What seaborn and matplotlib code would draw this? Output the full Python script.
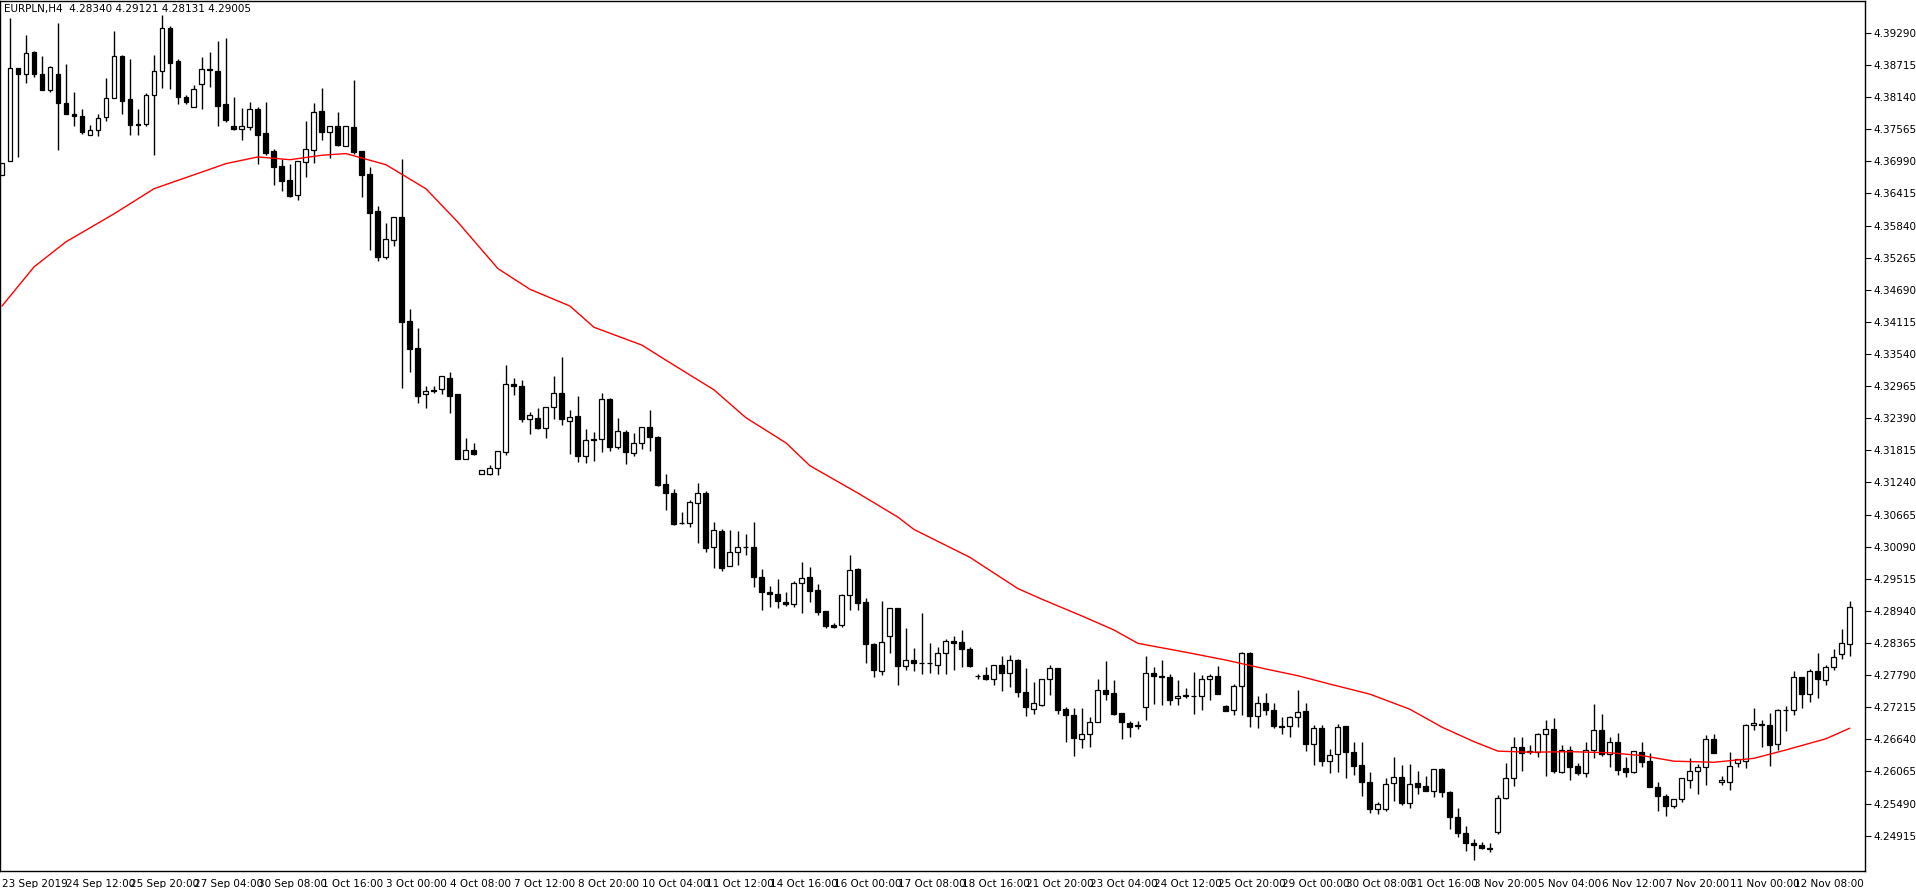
import numpy as np
import pandas as pd
import matplotlib
matplotlib.use("Agg")
import matplotlib.pyplot as plt
import seaborn as sns

# --- EURPLN H4 candles ---
opens = [
    4.3674, 4.3699, 4.3866, 4.3855, 4.3895, 4.3855, 4.3826, 4.3855, 4.3804, 4.3784,
    4.3780, 4.3747, 4.3756, 4.3778, 4.3812, 4.3888, 4.3810, 4.3766, 4.3766, 4.3818,
    4.3860, 4.3937, 4.3879, 4.3815, 4.3797,
    4.3838, 4.3865, 4.3861, 4.3801, 4.3763, 4.3757, 4.3760, 4.3793, 4.3749, 4.3717,
    4.3690, 4.3665, 4.3638, 4.3698, 4.3720, 4.3790, 4.3752, 4.3763, 4.3727, 4.3760,
    4.3717, 4.3676, 4.3610, 4.3527,
    4.3559, 4.3600, 4.3413, 4.3364, 4.3283, 4.3290, 4.3292, 4.3312, 4.3282, 4.3166,
    4.3182, 4.3139, 4.3140, 4.3150, 4.3178, 4.3301, 4.3297, 4.3237, 4.3240, 4.3221,
    4.3260, 4.3284, 4.3235, 4.3243, 4.3171, 4.3201,
    4.3201, 4.3273, 4.3187, 4.3214, 4.3176, 4.3194, 4.3223, 4.3206, 4.3122, 4.3105,
    4.3052, 4.3051, 4.3087, 4.3105, 4.3009, 4.3038, 4.2975, 4.3000, 4.3009, 4.3009,
    4.2955, 4.2928, 4.2925, 4.2910, 4.2907, 4.2944,
    4.2954, 4.2931, 4.2893, 4.2868, 4.2869, 4.2923, 4.2969, 4.2910, 4.2835, 4.2786,
    4.2850, 4.2899, 4.2796, 4.2806, 4.2800, 4.2800, 4.2797, 4.2818, 4.2840, 4.2838,
    4.2826, 4.2777, 4.2780, 4.2773, 4.2797, 4.2782, 4.2806,
    4.2748, 4.2718, 4.2726, 4.2772, 4.2791, 4.2718, 4.2707, 4.2665, 4.2673, 4.2695,
    4.2752, 4.2747, 4.2711, 4.2693, 4.2689, 4.2722, 4.2782, 4.2777, 4.2775, 4.2738,
    4.2742, 4.2741, 4.2741, 4.2773, 4.2777, 4.2723,
    4.2716, 4.2759, 4.2818, 4.2705, 4.2729, 4.2716, 4.2688, 4.2688, 4.2704, 4.2714,
    4.2655, 4.2685, 4.2625, 4.2638, 4.2688, 4.2641, 4.2619, 4.2588, 4.2540, 4.2540,
    4.2586, 4.2597, 4.2550, 4.2586, 4.2580, 4.2572, 4.2611,
    4.2570, 4.2525, 4.2496, 4.2479, 4.2475, 4.2470, 4.2498, 4.2559, 4.2595, 4.2650,
    4.2643, 4.2642, 4.2673, 4.2682, 4.2605, 4.2645, 4.2616, 4.2603, 4.2645, 4.2680,
    4.2637, 4.2659, 4.2612, 4.2605, 4.2641, 4.2625,
    4.2578, 4.2562, 4.2544, 4.2558, 4.2592, 4.2608, 4.2614, 4.2665, 4.2587, 4.2587,
    4.2621, 4.2626, 4.2689, 4.2692, 4.2690, 4.2656, 4.2716, 4.2717, 4.2776, 4.2746,
    4.2787, 4.2771, 4.2794, 4.2817, 4.28340,
]
highs = [
    4.3697, 4.3955, 4.3866, 4.3925, 4.3897, 4.3888, 4.3870, 4.3946, 4.3874, 4.3823,
    4.3793, 4.3765, 4.3784, 4.3848, 4.3933, 4.3890, 4.3882, 4.3793, 4.3821, 4.3890,
    4.3962, 4.3941, 4.3882, 4.3818, 4.3835,
    4.3886, 4.3894, 4.3915, 4.3920, 4.3814, 4.3794, 4.3806, 4.3797, 4.3806, 4.3721,
    4.3703, 4.3694, 4.3699, 4.3771, 4.3803, 4.3830, 4.3763, 4.3787, 4.3762, 4.3844,
    4.3717, 4.3689, 4.3619, 4.3588,
    4.3600, 4.3703, 4.3435, 4.3401, 4.3297, 4.3297, 4.3314, 4.3321, 4.3282, 4.3203,
    4.3194, 4.3146, 4.3156, 4.3180, 4.3334, 4.3312, 4.3307, 4.3250, 4.3258, 4.3260,
    4.3314, 4.3348, 4.3253, 4.3278, 4.3219, 4.3214,
    4.3285, 4.3275, 4.3239, 4.3218, 4.3213, 4.3223, 4.3254, 4.3207, 4.3140, 4.3112,
    4.3072, 4.3093, 4.3123, 4.3109, 4.3053, 4.3041, 4.3039, 4.3038, 4.3032, 4.3053,
    4.2969, 4.2939, 4.2952, 4.2928, 4.2947, 4.2981,
    4.2972, 4.2942, 4.2893, 4.2873, 4.2924, 4.2994, 4.2970, 4.2917, 4.2837, 4.2912,
    4.2900, 4.2900, 4.2863, 4.2828, 4.2890, 4.2837, 4.2829, 4.2843, 4.2849, 4.2860,
    4.2829, 4.2781, 4.2793, 4.2798, 4.2813, 4.2815, 4.2808,
    4.2792, 4.2767, 4.2773, 4.2797, 4.2791, 4.2722, 4.2720, 4.2720, 4.2704, 4.2773,
    4.2804, 4.2770, 4.2711, 4.2697, 4.2697, 4.2813, 4.2793, 4.2806, 4.2781, 4.2770,
    4.2756, 4.2785, 4.2779, 4.2781, 4.2795, 4.2725,
    4.2763, 4.2821, 4.2821, 4.2741, 4.2747, 4.2729, 4.2704, 4.2705, 4.2752, 4.2729,
    4.2689, 4.2690, 4.2647, 4.2692, 4.2688, 4.2660, 4.2660, 4.2606, 4.2551, 4.2594,
    4.2633, 4.2619, 4.2620, 4.2607, 4.2599, 4.2611, 4.2612,
    4.2571, 4.2542, 4.2508, 4.2486, 4.2480, 4.2478, 4.2565, 4.2622, 4.2668, 4.2668,
    4.2654, 4.2675, 4.2699, 4.2702, 4.2654, 4.2652, 4.2622, 4.2659, 4.2727, 4.2709,
    4.2668, 4.2675, 4.2632, 4.2643, 4.2659, 4.2640,
    4.2588, 4.2567, 4.2558, 4.2594, 4.2630, 4.2620, 4.2671, 4.2673, 4.2598, 4.2641,
    4.2628, 4.2692, 4.2721, 4.2698, 4.2711, 4.2718, 4.2723, 4.2786, 4.2776, 4.2790,
    4.2818, 4.2798, 4.2825, 4.2862, 4.29121,
]
lows = [
    4.3674, 4.3699, 4.3706, 4.3839, 4.3851, 4.3827, 4.3823, 4.3719, 4.3784, 4.3763,
    4.3748, 4.3747, 4.3744, 4.3772, 4.3812, 4.3784, 4.3747, 4.3747, 4.3763, 4.3710,
    4.3830, 4.3829, 4.3802, 4.3802, 4.3797,
    4.3792, 4.3833, 4.3763, 4.3769, 4.3755, 4.3737, 4.3755, 4.3694, 4.3710, 4.3657,
    4.3646, 4.3635, 4.3630, 4.3671, 4.3696, 4.3737, 4.3705, 4.3727, 4.3727, 4.3713,
    4.3636, 4.3541, 4.3520, 4.3525,
    4.3548, 4.3293, 4.3321, 4.3267, 4.3258, 4.3285, 4.3282, 4.3248, 4.3166, 4.3166,
    4.3174, 4.3139, 4.3138, 4.3138, 4.3173, 4.3280, 4.3233, 4.3210, 4.3219, 4.3203,
    4.3237, 4.3227, 4.3175, 4.3160, 4.3159, 4.3162,
    4.3178, 4.3181, 4.3184, 4.3157, 4.3172, 4.3184, 4.3181, 4.3117, 4.3074, 4.3048,
    4.3049, 4.3045, 4.3016, 4.2999, 4.2970, 4.2965, 4.2975, 4.2976, 4.2994, 4.2937,
    4.2896, 4.2901, 4.2899, 4.2903, 4.2901, 4.2890,
    4.2910, 4.2887, 4.2863, 4.2863, 4.2866, 4.2896, 4.2895, 4.2801, 4.2775, 4.2780,
    4.2819, 4.2762, 4.2789, 4.2786, 4.2781, 4.2783, 4.2781, 4.2781, 4.2789, 4.2794,
    4.2794, 4.2773, 4.2771, 4.2762, 4.2750, 4.2758, 4.2740,
    4.2705, 4.2709, 4.2723, 4.2744, 4.2709, 4.2660, 4.2634, 4.2648, 4.2650, 4.2695,
    4.2734, 4.2707, 4.2664, 4.2669, 4.2682, 4.2698, 4.2728, 4.2725, 4.2725, 4.2725,
    4.2738, 4.2710, 4.2717, 4.2735, 4.2746, 4.2714,
    4.2708, 4.2708, 4.2687, 4.2685, 4.2707, 4.2684, 4.2674, 4.2669, 4.2686, 4.2644,
    4.2619, 4.2617, 4.2603, 4.2605, 4.2594, 4.2601, 4.2562, 4.2533, 4.2530, 4.2535,
    4.2553, 4.2546, 4.2541, 4.2566, 4.2572, 4.2561, 4.2560,
    4.2503, 4.2490, 4.2465, 4.2448, 4.2467, 4.2463, 4.2494, 4.2558, 4.2581, 4.2608,
    4.2637, 4.2633, 4.2598, 4.2603, 4.2603, 4.2592, 4.2601, 4.2596, 4.2631, 4.2634,
    4.2615, 4.2601, 4.2596, 4.2603, 4.2614, 4.2578,
    4.2535, 4.2527, 4.2542, 4.2552, 4.2577, 4.2567, 4.2583, 4.2640, 4.2583, 4.2574,
    4.2615, 4.2613, 4.2681, 4.2651, 4.2617, 4.2645, 4.2679, 4.2708, 4.2721, 4.2731,
    4.2738, 4.2762, 4.2788, 4.2808, 4.28131,
]
closes = [
    4.3697, 4.3866, 4.3855, 4.3893, 4.3855, 4.3827, 4.3868, 4.3803, 4.3784, 4.3780,
    4.3751, 4.3756, 4.3777, 4.3813, 4.3888, 4.3807, 4.3764, 4.3764, 4.3818, 4.3860,
    4.3937, 4.3876, 4.3814, 4.3806, 4.3829,
    4.3864, 4.3863, 4.3799, 4.3774, 4.3757, 4.3762, 4.3793, 4.3747, 4.3714, 4.3689,
    4.3664, 4.3637, 4.3699, 4.3721, 4.3787, 4.3752, 4.3762, 4.3728, 4.3762, 4.3716,
    4.3674, 4.3607, 4.3527, 4.3560,
    4.3600, 4.3412, 4.3363, 4.3279, 4.3288, 4.3287, 4.3314, 4.3279, 4.3166, 4.3182,
    4.3175, 4.3146, 4.3150, 4.3180, 4.3300, 4.3296, 4.3238, 4.3244, 4.3222, 4.3260,
    4.3284, 4.3237, 4.3241, 4.3171, 4.3200, 4.3200,
    4.3273, 4.3187, 4.3217, 4.3178, 4.3194, 4.3223, 4.3206, 4.3120, 4.3105, 4.3049,
    4.3051, 4.3089, 4.3105, 4.3006, 4.3039, 4.2971, 4.3000, 4.3009, 4.3009, 4.2954,
    4.2928, 4.2925, 4.2912, 4.2906, 4.2944, 4.2953,
    4.2930, 4.2892, 4.2867, 4.2866, 4.2922, 4.2968, 4.2909, 4.2835, 4.2789, 4.2839,
    4.2900, 4.2796, 4.2806, 4.2800, 4.2801, 4.2801, 4.2818, 4.2841, 4.2837, 4.2825,
    4.2796, 4.2777, 4.2773, 4.2798, 4.2782, 4.2806, 4.2748,
    4.2722, 4.2729, 4.2773, 4.2791, 4.2717, 4.2707, 4.2667, 4.2673, 4.2695, 4.2752,
    4.2746, 4.2710, 4.2695, 4.2687, 4.2688, 4.2782, 4.2778, 4.2775, 4.2735, 4.2742,
    4.2743, 4.2741, 4.2773, 4.2777, 4.2746, 4.2714,
    4.2759, 4.2818, 4.2705, 4.2730, 4.2716, 4.2688, 4.2686, 4.2704, 4.2713, 4.2655,
    4.2685, 4.2625, 4.2636, 4.2686, 4.2641, 4.2616, 4.2587, 4.2540, 4.2548, 4.2584,
    4.2597, 4.2550, 4.2584, 4.2579, 4.2572, 4.2611, 4.2570,
    4.2525, 4.2496, 4.2479, 4.2474, 4.2469, 4.2468, 4.2559, 4.2595, 4.2650, 4.2639,
    4.2641, 4.2673, 4.2682, 4.2608, 4.2645, 4.2615, 4.2603, 4.2645, 4.2680, 4.2637,
    4.2659, 4.2610, 4.2605, 4.2643, 4.2624, 4.2578,
    4.2562, 4.2544, 4.2558, 4.2594, 4.2608, 4.2615, 4.2665, 4.2640, 4.2592, 4.2617,
    4.2628, 4.2689, 4.2693, 4.2690, 4.2654, 4.2716, 4.2717, 4.2776, 4.2745, 4.2787,
    4.2773, 4.2794, 4.2812, 4.2836, 4.29005,
]

# moving average (red line), sampled along the chart
ma_bar = [0, 4, 8, 14, 19, 24, 28, 32, 36, 40, 43, 48, 53, 57, 62, 66, 71, 74, 80, 83,
          89, 93, 98, 101, 107, 112, 114, 121, 127, 130, 135, 139, 142, 148, 153, 158,
          162, 166, 171, 176, 180, 184, 187, 191, 196, 201, 205, 209, 214, 219, 223, 228, 231]
ma_val = [4.3440, 4.3510, 4.3555, 4.3605, 4.3650, 4.3675, 4.3695, 4.3707, 4.3702, 4.3710,
          4.3713, 4.3693, 4.3650, 4.3590, 4.3507, 4.3470, 4.3440, 4.3402, 4.3370, 4.3343,
          4.3290, 4.3240, 4.3195, 4.3154, 4.3105, 4.3062, 4.3040, 4.2990, 4.2934, 4.2915,
          4.2885, 4.2860, 4.2836, 4.2820, 4.2806, 4.2790, 4.2778, 4.2763, 4.2745, 4.2718,
          4.2686, 4.2660, 4.2643, 4.2641, 4.2642, 4.2640, 4.2635, 4.2625, 4.2623, 4.2630,
          4.2645, 4.2665, 4.2684]

date_labels = ["23 Sep 2019", "24 Sep 12:00", "25 Sep 20:00", "27 Sep 04:00", "30 Sep 08:00",
               "1 Oct 16:00", "3 Oct 00:00", "4 Oct 08:00", "7 Oct 12:00", "8 Oct 20:00",
               "10 Oct 04:00", "11 Oct 12:00", "14 Oct 16:00", "16 Oct 00:00", "17 Oct 08:00",
               "18 Oct 16:00", "21 Oct 20:00", "23 Oct 04:00", "24 Oct 12:00", "25 Oct 20:00",
               "29 Oct 00:00", "30 Oct 08:00", "31 Oct 16:00", "3 Nov 20:00", "5 Nov 04:00",
               "6 Nov 12:00", "7 Nov 20:00", "11 Nov 00:00", "12 Nov 08:00"]
price_ticks = [4.24915 + 0.00575 * k for k in range(26)]

df = pd.DataFrame({"open": opens, "high": highs, "low": lows, "close": closes})
df["bar"] = np.arange(len(df))
up = df["close"] >= df["open"]
body_lo = df[["open", "close"]].min(axis=1)
body_h = (df["close"] - df["open"]).abs().clip(lower=0.00003)

sns.set_style("white")
plt.rcParams['font.family'] = ['DejaVu Sans']

fig = plt.figure(figsize=(19.16, 8.88), dpi=100)
ax = fig.add_axes([0.0, 17 / 888, 1865 / 1916, 870 / 888])

ax.vlines(df["bar"], df["low"], df["high"], color="black", lw=1.0, zorder=1)
ax.bar(df["bar"], body_h, bottom=body_lo, width=0.62,
       color=np.where(up, "white", "black"), edgecolor="black", linewidth=0.9, zorder=2)

sns.lineplot(x=ma_bar, y=ma_val, color="#ff0000", lw=1.0, ax=ax, zorder=3)

ax.set_xlim(-0.25, 232.9)
ax.set_ylim(4.24283, 4.39862)

ax.yaxis.tick_right()
ax.set_yticks(price_ticks)
ax.set_yticklabels([f"{p:.5f}" for p in price_ticks])
ax.set_xticks(np.arange(len(date_labels)) * 8)
ax.set_xticklabels(date_labels, ha="left")
ax.tick_params(axis="y", direction="out", length=4, width=0.8, labelsize=7.5, pad=2, colors="black")
ax.tick_params(axis="x", direction="out", length=5, width=0.8, labelsize=7.5, pad=1, colors="black")
for s in ax.spines.values():
    s.set_color("black")
    s.set_linewidth(1.0)
ax.set_xlabel("")
ax.set_ylabel("")

ax.text(0.002, 0.997, "EURPLN,H4  4.28340 4.29121 4.28131 4.29005", transform=ax.transAxes,
        ha="left", va="top", fontsize=7.5, color="black")

fig.savefig("out.png", dpi=100)
